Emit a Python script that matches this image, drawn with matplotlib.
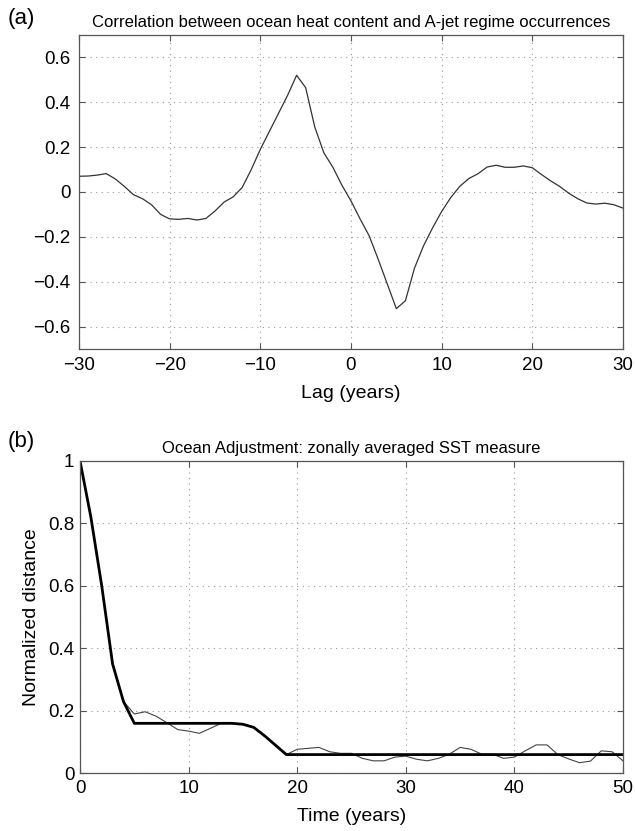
import numpy as np
import matplotlib.pyplot as plt
from matplotlib.ticker import FuncFormatter

plt.rcParams['font.family'] = ['Liberation Sans', 'DejaVu Sans']

# (a) lagged correlation, one value per year
lag = list(range(-30, 31))
corr = [0.070, 0.071, 0.075, 0.082, 0.058, 0.025, -0.012, -0.030, -0.057, -0.100,
        -0.120, -0.122, -0.118, -0.125, -0.118, -0.085, -0.045, -0.022, 0.020, 0.100,
        0.190, 0.270, 0.350, 0.430, 0.520, 0.465, 0.290, 0.175, 0.110, 0.030,
        -0.040, -0.120, -0.195, -0.300, -0.410, -0.520, -0.485, -0.340, -0.240, -0.160,
        -0.087, -0.025, 0.025, 0.060, 0.081, 0.111, 0.119, 0.110, 0.110, 0.116,
        0.108, 0.078, 0.050, 0.025, -0.005, -0.030, -0.049, -0.054, -0.050, -0.057,
        -0.072]

# (b) ocean adjustment, one value per year
time = list(range(0, 51))
dist_raw = [1.000, 0.820, 0.600, 0.350, 0.230, 0.190, 0.197, 0.183, 0.162, 0.140,
            0.135, 0.128, 0.144, 0.160, 0.160, 0.157, 0.147, 0.120, 0.090, 0.060,
            0.077, 0.080, 0.083, 0.069, 0.064, 0.064, 0.048, 0.040, 0.040, 0.052,
            0.055, 0.045, 0.040, 0.048, 0.061, 0.083, 0.077, 0.061, 0.061, 0.048,
            0.052, 0.072, 0.091, 0.091, 0.060, 0.046, 0.034, 0.039, 0.072, 0.069,
            0.040]
dist_fit = [1.000, 0.820, 0.600, 0.350, 0.230, 0.160, 0.160, 0.160, 0.160, 0.160,
            0.160, 0.160, 0.160, 0.160, 0.160, 0.157, 0.147, 0.120, 0.090, 0.060,
            0.060, 0.060, 0.060, 0.060, 0.060, 0.060, 0.060, 0.060, 0.060, 0.060,
            0.060, 0.060, 0.060, 0.060, 0.060, 0.060, 0.060, 0.060, 0.060, 0.060,
            0.060, 0.060, 0.060, 0.060, 0.060, 0.060, 0.060, 0.060, 0.060, 0.060,
            0.060]


def style(ax):
    for s in ax.spines.values():
        s.set_color('#555555')
        s.set_linewidth(0.9)
    ax.tick_params(direction='in', top=True, right=True, length=4,
                   labelsize=13.5, color='#555555', pad=6)
    ax.grid(True, linestyle=(0, (1, 4)), color='#999999', linewidth=0.8)


def fmt(v, pos):
    s = ('%.1f' % v).rstrip('0').rstrip('.')
    if s in ('-0', ''):
        s = '0'
    return s.replace('-', '\u2212')


fig = plt.figure(figsize=(6.35, 8.31), dpi=100)

ax1 = fig.add_axes([0.1244, 0.580, 0.8567, 0.378])
ax1.plot(lag, corr, color='#333333', linewidth=0.9)
ax1.set_xlim(-30, 30)
ax1.set_ylim(-0.7, 0.7)
ax1.set_xticks([-30, -20, -10, 0, 10, 20, 30])
ax1.set_yticks([-0.6, -0.4, -0.2, 0, 0.2, 0.4, 0.6])
ax1.yaxis.set_major_formatter(FuncFormatter(fmt))
style(ax1)
ax1.set_xlabel('Lag (years)', fontsize=14, labelpad=8)
ax1.set_title('Correlation between ocean heat content and A-jet regime occurrences',
              fontsize=12, pad=6)
fig.text(0.012, 0.978, '(a)', fontsize=16, va='center')

ax2 = fig.add_axes([0.1260, 0.0694, 0.8551, 0.376])
ax2.plot(time, dist_raw, color='#444444', linewidth=0.8)
ax2.plot(time, dist_fit, color='black', linewidth=2.0)
ax2.set_xlim(0, 50)
ax2.set_ylim(0, 1)
ax2.set_xticks([0, 10, 20, 30, 40, 50])
ax2.set_yticks([0, 0.2, 0.4, 0.6, 0.8, 1])
ax2.yaxis.set_major_formatter(FuncFormatter(fmt))
style(ax2)
ax2.tick_params(axis='x', pad=5)
ax2.tick_params(axis='y', pad=4)
ax2.set_xlabel('Time (years)', fontsize=14, labelpad=8)
ax2.set_ylabel('Normalized distance', fontsize=14, labelpad=6)
ax2.set_title('Ocean Adjustment: zonally averaged SST measure', fontsize=12, pad=6)
fig.text(0.012, 0.469, '(b)', fontsize=16, va='center')

fig.savefig('out.png', dpi=100)
